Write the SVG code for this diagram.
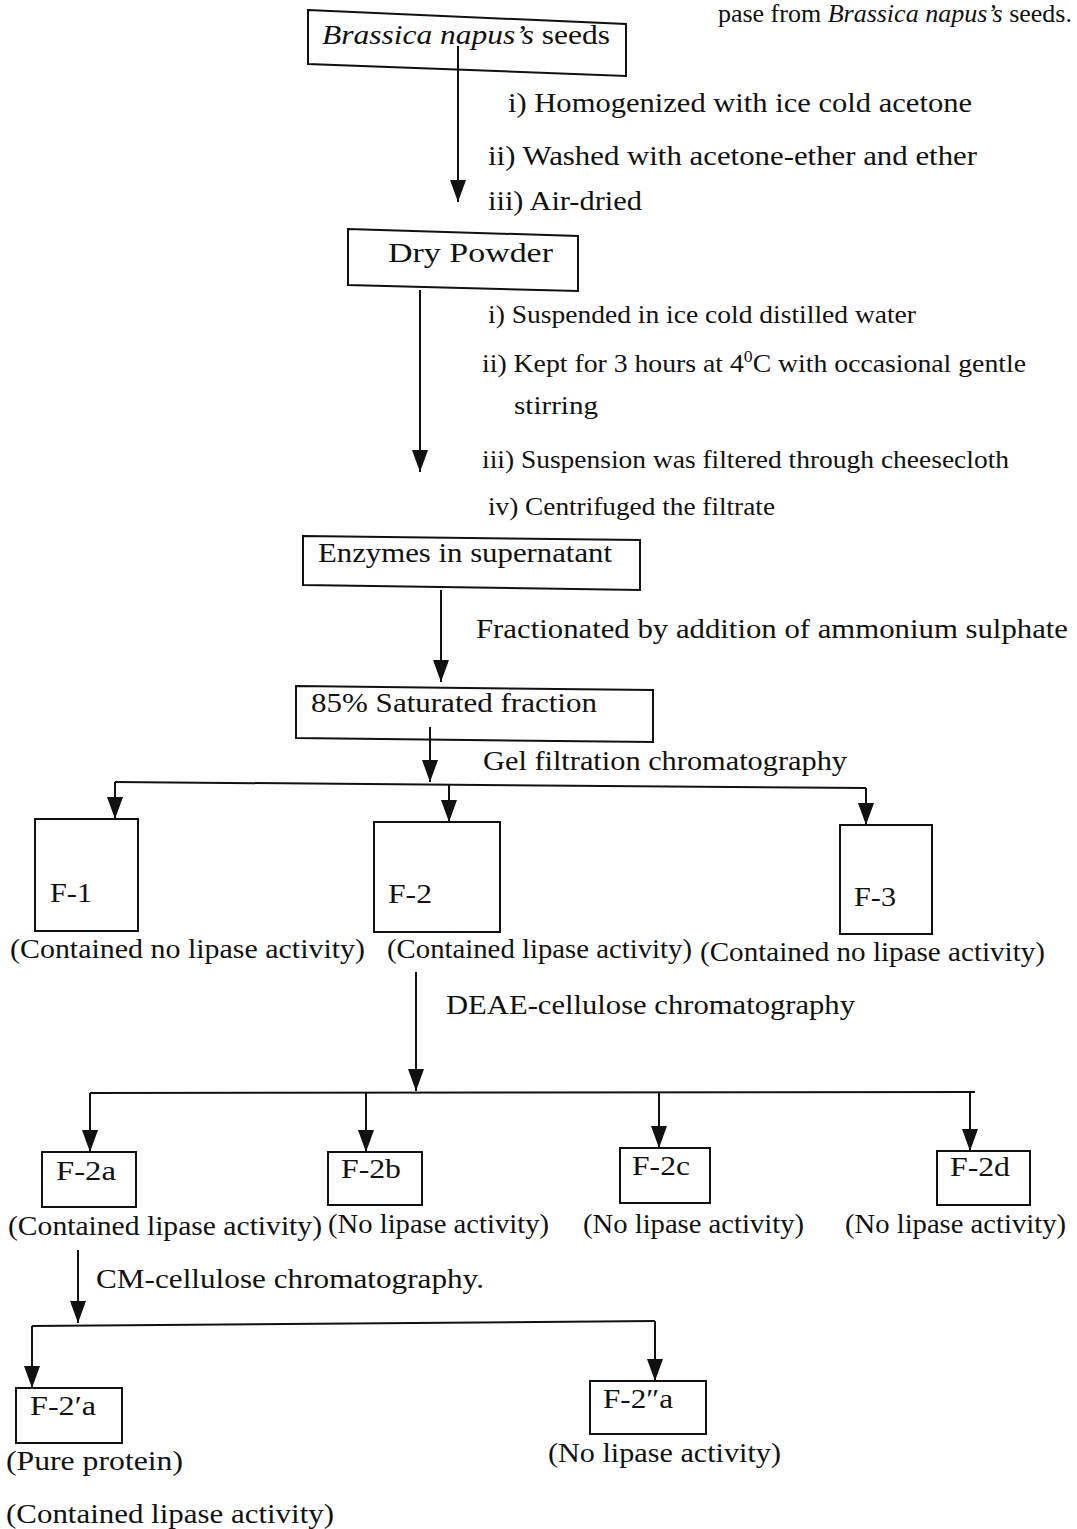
<svg xmlns="http://www.w3.org/2000/svg" width="1077" height="1529" viewBox="0 0 1077 1529">
<style>
text{font-family:"Liberation Serif","Times New Roman",serif;fill:#111;}
.t{font-size:28px;}
.c{font-size:25px;}
.box{fill:none;stroke:#111;stroke-width:2;}
.ln{fill:none;stroke:#111;stroke-width:2;}
</style>
<defs>
<marker id="ah" markerUnits="userSpaceOnUse" markerWidth="22" markerHeight="16" refX="22" refY="8" orient="auto">
<path d="M0,0 L22,8 L0,16 z" fill="#111"/>
</marker>
</defs>
<rect width="1077" height="1529" fill="#fff"/>
<text x="1072" y="22" text-anchor="end" font-size="26">pase from <tspan font-style="italic">Brassica napus’s</tspan> seeds.</text>

<g id="n-seeds">
<polygon class="box" points="308,10 626,24 626,76 308,64"/>
<text class="t" x="322" y="44" textLength="288" lengthAdjust="spacingAndGlyphs"><tspan font-style="italic">Brassica napus’s</tspan> seeds</text>
</g>
<g id="n-powder">
<polygon class="box" points="348,229 578,236 578,291 348,285"/>
<text class="t" x="388" y="262" textLength="165" lengthAdjust="spacingAndGlyphs">Dry   Powder</text>
</g>
<g id="n-enzymes">
<polygon class="box" points="303,536 640,540 640,590 303,585"/>
<text class="t" x="318" y="562" textLength="294" lengthAdjust="spacingAndGlyphs">Enzymes in supernatant</text>
</g>
<g id="n-85">
<polygon class="box" points="296,686 653,690 653,742 296,738"/>
<text class="t" x="311" y="712" textLength="286" lengthAdjust="spacingAndGlyphs">85% Saturated fraction</text>
</g>
<g id="n-f1">
<rect class="box" x="35" y="819" width="103" height="112"/>
<text class="t" x="50" y="902" textLength="42" lengthAdjust="spacingAndGlyphs">F-1</text>
<text class="t" x="10" y="958" textLength="355" lengthAdjust="spacingAndGlyphs">(Contained no lipase activity)</text>
</g>
<g id="n-f2">
<rect class="box" x="374" y="822" width="126" height="110"/>
<text class="t" x="388" y="903" textLength="44" lengthAdjust="spacingAndGlyphs">F-2</text>
<text class="t" x="387" y="958" textLength="305" lengthAdjust="spacingAndGlyphs">(Contained lipase activity)</text>
</g>
<g id="n-f3">
<rect class="box" x="840" y="825" width="92" height="109"/>
<text class="t" x="854" y="906" textLength="42" lengthAdjust="spacingAndGlyphs">F-3</text>
<text class="t" x="700" y="961" textLength="345" lengthAdjust="spacingAndGlyphs">(Contained no lipase activity)</text>
</g>
<g id="n-f2a">
<rect class="box" x="42" y="1152" width="94" height="55"/>
<text class="t" x="56" y="1180" textLength="60" lengthAdjust="spacingAndGlyphs">F-2a</text>
<text class="t" x="8" y="1235" textLength="314" lengthAdjust="spacingAndGlyphs">(Contained lipase activity)</text>
</g>
<g id="n-f2b">
<rect class="box" x="328" y="1152" width="94" height="53"/>
<text class="t" x="341" y="1178" textLength="60" lengthAdjust="spacingAndGlyphs">F-2b</text>
<text class="t" x="328" y="1233" textLength="221" lengthAdjust="spacingAndGlyphs">(No lipase activity)</text>
</g>
<g id="n-f2c">
<rect class="box" x="620" y="1148" width="90" height="55"/>
<text class="t" x="632" y="1175" textLength="58" lengthAdjust="spacingAndGlyphs">F-2c</text>
<text class="t" x="583" y="1233" textLength="221" lengthAdjust="spacingAndGlyphs">(No lipase activity)</text>
</g>
<g id="n-f2d">
<rect class="box" x="937" y="1151" width="93" height="54"/>
<text class="t" x="950" y="1176" textLength="60" lengthAdjust="spacingAndGlyphs">F-2d</text>
<text class="t" x="845" y="1233" textLength="221" lengthAdjust="spacingAndGlyphs">(No lipase activity)</text>
</g>
<g id="n-f2pa">
<rect class="box" x="16" y="1388" width="106" height="55"/>
<text class="t" x="30" y="1415" textLength="66" lengthAdjust="spacingAndGlyphs">F-2′a</text>
<text class="t" x="6" y="1470" textLength="177" lengthAdjust="spacingAndGlyphs">(Pure protein)</text>
<text class="t" x="6" y="1523" textLength="328" lengthAdjust="spacingAndGlyphs">(Contained lipase activity)</text>
</g>
<g id="n-f2ppa">
<rect class="box" x="590" y="1381" width="116" height="53"/>
<text class="t" x="603" y="1408" textLength="70" lengthAdjust="spacingAndGlyphs">F-2″a</text>
<text class="t" x="548" y="1462" textLength="233" lengthAdjust="spacingAndGlyphs">(No lipase activity)</text>
</g>

<g id="connectors">
<line class="ln" x1="458" y1="46" x2="458" y2="202" marker-end="url(#ah)"/>
<line class="ln" x1="420" y1="290" x2="420" y2="472" marker-end="url(#ah)"/>
<line class="ln" x1="441" y1="590" x2="441" y2="682" marker-end="url(#ah)"/>
<line class="ln" x1="430" y1="727" x2="430" y2="782" marker-end="url(#ah)"/>
<polyline class="ln" points="115,782 866,788"/>
<line class="ln" x1="115" y1="782" x2="115" y2="819" marker-end="url(#ah)"/>
<line class="ln" x1="449" y1="785" x2="449" y2="822" marker-end="url(#ah)"/>
<line class="ln" x1="866" y1="788" x2="866" y2="825" marker-end="url(#ah)"/>
<line class="ln" x1="416" y1="972" x2="416" y2="1091" marker-end="url(#ah)"/>
<polyline class="ln" points="90,1093 975,1092"/>
<line class="ln" x1="90" y1="1093" x2="90" y2="1152" marker-end="url(#ah)"/>
<line class="ln" x1="366" y1="1093" x2="366" y2="1152" marker-end="url(#ah)"/>
<line class="ln" x1="659" y1="1092" x2="659" y2="1148" marker-end="url(#ah)"/>
<line class="ln" x1="970" y1="1092" x2="970" y2="1151" marker-end="url(#ah)"/>
<line class="ln" x1="78" y1="1250" x2="78" y2="1323" marker-end="url(#ah)"/>
<polyline class="ln" points="32,1326 655,1321"/>
<line class="ln" x1="32" y1="1326" x2="32" y2="1388" marker-end="url(#ah)"/>
<line class="ln" x1="655" y1="1321" x2="655" y2="1381" marker-end="url(#ah)"/>
</g>

<g id="labels">
<text class="t" x="508" y="112" textLength="464" lengthAdjust="spacingAndGlyphs">i) Homogenized with ice cold acetone</text>
<text class="t" x="488" y="165" textLength="489" lengthAdjust="spacingAndGlyphs">ii) Washed with acetone-ether and ether</text>
<text class="t" x="488" y="210" textLength="154" lengthAdjust="spacingAndGlyphs">iii) Air-dried</text>
<text class="c" x="488" y="323" textLength="428" lengthAdjust="spacingAndGlyphs">i) Suspended in ice cold distilled water</text>
<text class="c" x="482" y="372" textLength="544" lengthAdjust="spacingAndGlyphs">ii) Kept for 3 hours at 4<tspan dy="-10" font-size="16">0</tspan><tspan dy="10">C with occasional gentle</tspan></text>
<text class="c" x="514" y="414" textLength="84" lengthAdjust="spacingAndGlyphs">stirring</text>
<text class="c" x="482" y="468" textLength="527" lengthAdjust="spacingAndGlyphs">iii) Suspension was filtered through cheesecloth</text>
<text class="c" x="488" y="515" textLength="287" lengthAdjust="spacingAndGlyphs">iv) Centrifuged the filtrate</text>
<text class="t" x="476" y="638" textLength="592" lengthAdjust="spacingAndGlyphs">Fractionated by addition of ammonium sulphate</text>
<text class="t" x="483" y="770" textLength="364" lengthAdjust="spacingAndGlyphs">Gel filtration chromatography</text>
<text class="t" x="446" y="1014" textLength="409" lengthAdjust="spacingAndGlyphs">DEAE-cellulose chromatography</text>
<text class="t" x="96" y="1288" textLength="388" lengthAdjust="spacingAndGlyphs">CM-cellulose chromatography.</text>
</g>
</svg>
